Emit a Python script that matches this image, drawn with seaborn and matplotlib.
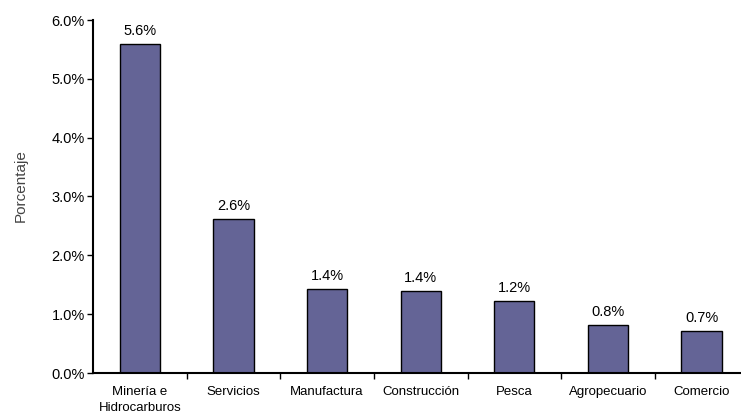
import matplotlib
matplotlib.use("Agg")
import matplotlib.pyplot as plt
import seaborn as sns
import pandas as pd
from matplotlib.ticker import FixedLocator, FuncFormatter

categories = ["Minería e\nHidrocarburos", "Servicios", "Manufactura", "Construcción",
              "Pesca", "Agropecuario", "Comercio"]
values = [5.6, 2.62, 1.43, 1.40, 1.23, 0.82, 0.71]
value_labels = ["5.6%", "2.6%", "1.4%", "1.4%", "1.2%", "0.8%", "0.7%"]
y_ticks = [0, 1, 2, 3, 4, 5, 6]

df = pd.DataFrame({"sector": categories, "pct": values})

sns.set_style("white")
plt.rcParams['font.family'] = ['Liberation Sans', 'DejaVu Sans']
plt.rcParams['text.color'] = 'black'
plt.rcParams['xtick.color'] = 'black'
plt.rcParams['ytick.color'] = 'black'
plt.rcParams['axes.labelcolor'] = '#444444'

fig = plt.figure(figsize=(7.41, 4.15), dpi=100)
ax = fig.add_axes([93/741, 1 - 373/415, 1 - 93/741 + 0.01, (373 - 20)/415])

sns.barplot(data=df, x="sector", y="pct", color="#646496", saturation=1,
            width=0.43, edgecolor="black", linewidth=1.0, ax=ax)

ax.set_xlim(-0.5, 6.5)
ax.set_ylim(0, 6)
ax.yaxis.set_major_locator(FixedLocator(y_ticks))
ax.yaxis.set_major_formatter(FuncFormatter(lambda v, p: f"{v:.1f}%"))
ax.tick_params(axis="y", direction="out", length=4, width=1, labelsize=10.5, pad=2, left=True)
ax.tick_params(axis="x", which="major", length=0, labelsize=9.5, pad=9)
ax.set_xticks([i + 0.5 for i in range(6)], minor=True)
ax.tick_params(axis="x", which="minor", direction="out", length=4, width=1, bottom=True)
for t in ax.get_xticklabels():
    t.set_linespacing(1.5)

for s in ["top", "right"]:
    ax.spines[s].set_visible(False)
for s in ["left", "bottom"]:
    ax.spines[s].set_color("black")
    ax.spines[s].set_linewidth(1.5)

for i, (v, lab) in enumerate(zip(values, value_labels)):
    ax.text(i, v + 0.1, lab, ha="center", va="bottom", fontsize=10.5)

ax.set_xlabel("")
ax.set_ylabel("Porcentaje", fontsize=11)
ax.yaxis.set_label_coords(-0.1, 0.53)

fig.savefig("out.png", dpi=100)
